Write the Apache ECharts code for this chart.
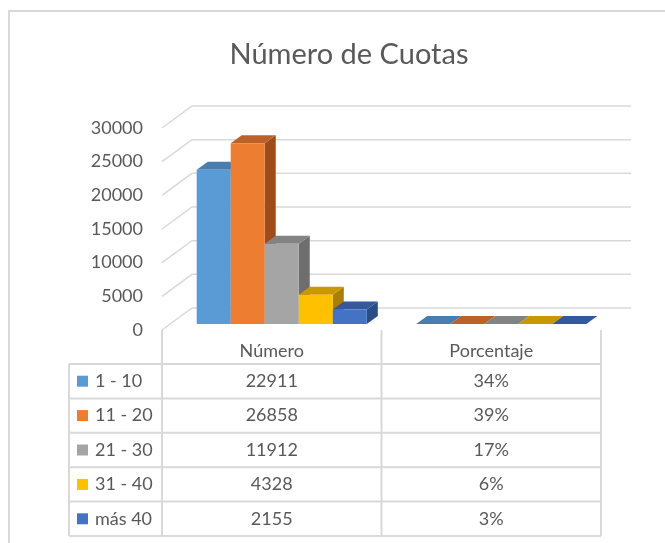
<!DOCTYPE html>
<html>
<head>
<meta charset="utf-8">
<script src="https://cdn.jsdelivr.net/npm/echarts@6/dist/echarts.min.js"></script>
<style>
html,body{margin:0;padding:0;background:#fff;}
#chart{width:665px;height:543px;}
</style>
</head>
<body>
<div id="chart"></div>
<script>
// ---- data ----
const categories = ['Número', 'Porcentaje'];
const rangeNames = ['1 - 10', '11 - 20', '21 - 30', '31 - 40', 'más 40'];
const numero = [22911, 26858, 11912, 4328, 2155];
const porcentaje = [34, 39, 17, 6, 3]; // percent
const yMin = 0, yMax = 30000, yStep = 5000;
const yTickValues = [0, 5000, 10000, 15000, 20000, 25000, 30000];

// ---- styles ----
const frontColors = ['#5B9BD5', '#ED7D31', '#A5A5A5', '#FFC000', '#4472C4'];
const topColors   = ['#4A7DAF', '#BC6127', '#838383', '#C99700', '#34599B'];
const sideColors  = ['#3C6895', '#9E4C1A', '#6E6E6E', '#A97F00', '#2C4C85'];
const FONT = 'Lato, "Open Sans", sans-serif';
const TXT = '#595959';
const LINE = '#D9D9D9';
const WALL_DX = 30, WALL_DY = -22;     // back wall offset from front plane
const BAR_DX = 10, BAR_DY = -6;        // bar front plane offset
const DEPTH_DX = 11, DEPTH_DY = -8;    // bar depth
const TABLE_TOP = 330, HEADER_BOTTOM = 364, ROW_H = 34.4, TABLE_LEFT = 69;

const chart = echarts.init(document.getElementById('chart'));

function barSeries(i) {
  return {
    type: 'custom',
    name: rangeNames[i],
    clip: false,
    z: 3,
    data: [[0, numero[i]], [1, porcentaje[i] / 100]],
    renderItem: function (params, api) {
      const cat = api.value(0), v = api.value(1);
      const base = api.coord([cat, 0]);
      const top = api.coord([cat, v]);
      const band = api.size([1, 0])[0];
      const bw = band * 0.155;
      const gw = bw * rangeNames.length;
      const x = base[0] - gw / 2 + i * bw + BAR_DX;
      const yb = base[1] + BAR_DY;
      const yt = top[1] + BAR_DY;
      return {
        type: 'group',
        children: [
          { type: 'polygon', shape: { points: [[x + bw, yt], [x + bw + DEPTH_DX, yt + DEPTH_DY], [x + bw + DEPTH_DX, yb + DEPTH_DY], [x + bw, yb]] },
            style: { fill: sideColors[i] } },
          { type: 'polygon', shape: { points: [[x, yt], [x + DEPTH_DX, yt + DEPTH_DY], [x + bw + DEPTH_DX, yt + DEPTH_DY], [x + bw, yt]] },
            style: { fill: topColors[i] } },
          { type: 'rect', shape: { x: x, y: yt, width: bw, height: Math.max(yb - yt, 0) },
            style: { fill: frontColors[i] } }
        ]
      };
    }
  };
}

const wallSeries = {
  type: 'custom',
  name: 'walls',
  clip: false,
  z: 1,
  silent: true,
  data: yTickValues.map(v => [0, v]),
  renderItem: function (params, api) {
    const cs = params.coordSys;
    const y = api.coord([0, api.value(1)])[1];
    return {
      type: 'polyline',
      shape: { points: [[cs.x, y], [cs.x + WALL_DX, y + WALL_DY], [cs.x + cs.width + WALL_DX, y + WALL_DY]] },
      style: { stroke: LINE, lineWidth: 1.5, fill: null }
    };
  }
};

const tableSeries = {
  type: 'custom',
  name: 'table',
  clip: false,
  z: 2,
  silent: true,
  data: [[0, 0]],
  renderItem: function (params, api) {
    const cs = params.coordSys;
    const band = api.size([1, 0])[0];
    const children = [];
    const nRows = rangeNames.length;
    const bottom = HEADER_BOTTOM + ROW_H * nRows;
    const right = cs.x + cs.width;
    children.push({ type: 'line', shape: { x1: TABLE_LEFT, y1: HEADER_BOTTOM, x2: TABLE_LEFT, y2: bottom }, style: { stroke: LINE, lineWidth: 2 } });
    for (let c = 0; c <= categories.length; c++) {
      const xx = cs.x + band * c;
      children.push({ type: 'line', shape: { x1: xx, y1: TABLE_TOP, x2: xx, y2: bottom }, style: { stroke: LINE, lineWidth: 2 } });
    }
    for (let r = 0; r <= nRows; r++) {
      const yy = HEADER_BOTTOM + ROW_H * r;
      children.push({ type: 'line', shape: { x1: TABLE_LEFT, y1: yy, x2: right, y2: yy }, style: { stroke: LINE, lineWidth: 2 } });
    }
    categories.forEach((c, ci) => {
      const cx = api.coord([ci, 0])[0];
      children.push({ type: 'text', style: { text: c, x: cx, y: (TABLE_TOP + HEADER_BOTTOM) / 2 + 4, align: 'center', verticalAlign: 'middle', font: '18px ' + FONT, fill: TXT } });
    });
    for (let r = 0; r < nRows; r++) {
      const cy = HEADER_BOTTOM + ROW_H * (r + 0.5);
      children.push({ type: 'rect', shape: { x: 77, y: cy - 5.5, width: 11, height: 11 }, style: { fill: frontColors[r] } });
      children.push({ type: 'text', style: { text: rangeNames[r], x: 95, y: cy, align: 'left', verticalAlign: 'middle', font: '18px ' + FONT, fill: TXT } });
      const c0 = api.coord([0, 0])[0], c1 = api.coord([1, 0])[0];
      children.push({ type: 'text', style: { text: String(numero[r]), x: c0, y: cy, align: 'center', verticalAlign: 'middle', font: '18px ' + FONT, fill: TXT } });
      children.push({ type: 'text', style: { text: porcentaje[r] + '%', x: c1, y: cy, align: 'center', verticalAlign: 'middle', font: '18px ' + FONT, fill: TXT } });
    }
    return { type: 'group', children: children };
  }
};

const option = {
  backgroundColor: '#ffffff',
  animation: false,
  title: {
    text: 'Número de Cuotas',
    left: 344,
    textAlign: 'center',
    top: 35,
    textStyle: { fontSize: 29, fontWeight: 'normal', color: TXT, fontFamily: FONT }
  },
  graphic: [{
    type: 'rect', z: -10, silent: true,
    shape: { x: 9, y: 11, width: 700, height: 600 },
    style: { fill: null, stroke: LINE, lineWidth: 2 }
  }],
  grid: { left: 162, right: 64, top: 128, bottom: 213, containLabel: false },
  xAxis: {
    type: 'category',
    data: categories,
    axisLine: { show: false }, axisTick: { show: false }, axisLabel: { show: false }, splitLine: { show: false }
  },
  yAxis: {
    type: 'value',
    min: yMin, max: yMax, interval: yStep,
    axisLine: { show: false }, axisTick: { show: false }, splitLine: { show: false },
    axisLabel: { color: TXT, fontSize: 18, fontFamily: FONT, margin: 19, formatter: v => String(v) }
  },
  series: [wallSeries, tableSeries].concat(rangeNames.map((n, i) => barSeries(i)))
};
chart.setOption(option);
</script>
</body>
</html>
